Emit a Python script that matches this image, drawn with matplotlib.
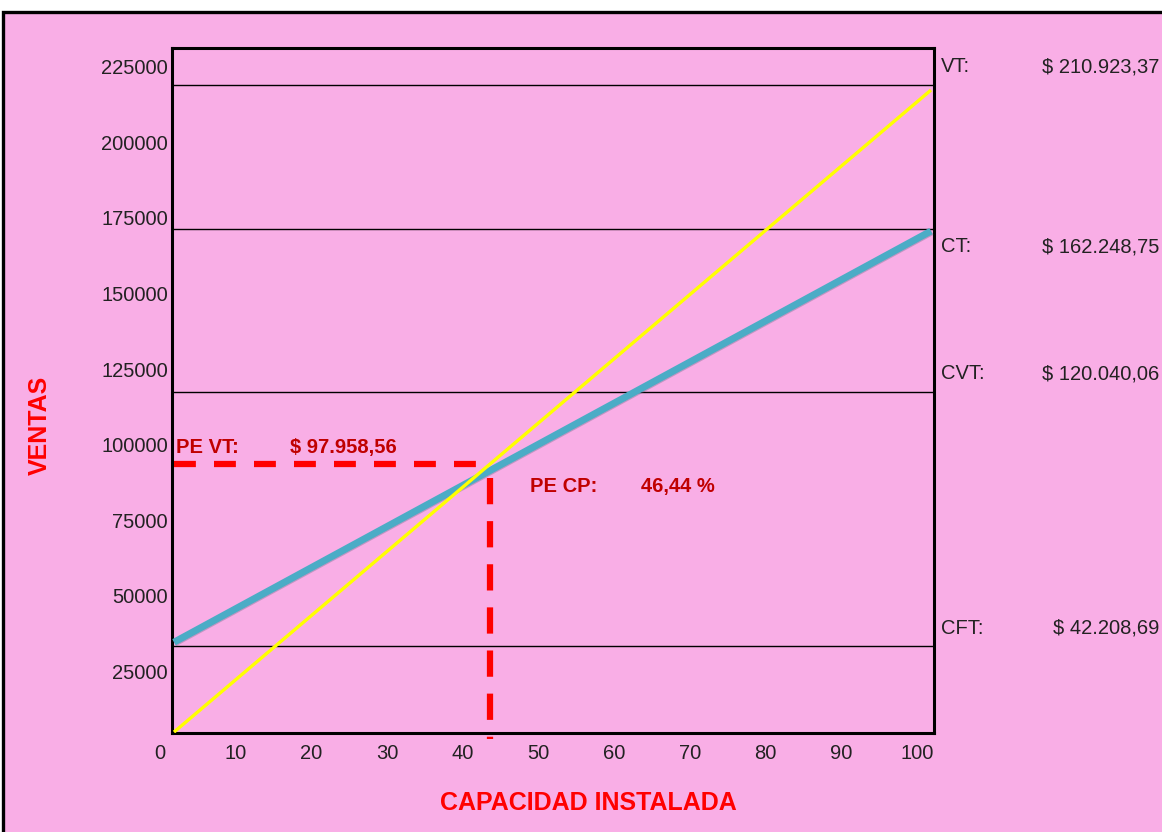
import matplotlib
matplotlib.use("Agg")
import matplotlib.pyplot as plt
from matplotlib.patches import Rectangle
from matplotlib.transforms import ScaledTranslation
import matplotlib.patheffects as pe

# --------------------------- DATA ---------------------------

capacidad = [0, 100]                    # % capacidad instalada
ventas_totales = [5000, 217200]         # VT
costo_total = [34700, 170600]           # CT

nivel_nombres = ["VT:", "CT:", "CVT:", "CFT:"]
nivel_valores = [218900, 171300, 117500, 33400]
nivel_textos = ["$ 210.923,37", "$ 162.248,75", "$ 120.040,06", "$ 42.208,69"]
nivel_offsets = [13, -13, 13, 13]       # text above / below the line (points)

pe_x = 41.7
pe_y = 93600
pe_vt_texto = "$ 97.958,56"
pe_cp_texto = "46,44 %"

x_ticks = list(range(0, 101, 10))
y_ticks = list(range(25000, 225001, 25000))

# --------------------------- STYLE ---------------------------

PINK = "#F9AEE6"
BLUE = "#4BACC6"
YELLOW = "#FFFF00"
RED = "#FF0000"
DARK_RED = "#C00000"
TEXT = "#222222"

plt.rcParams['font.family'] = ['Liberation Sans', 'DejaVu Sans']

fig = plt.figure(figsize=(11.62, 8.32), dpi=100, facecolor='white')

# outer frame of the chart (behind the axes)
fig.patches.append(Rectangle((3 / 1162, -0.05), 1.05, 1 - 12 / 832 + 0.05,
                             transform=fig.transFigure, facecolor=PINK,
                             edgecolor='black', linewidth=2.4, zorder=-10))

ax = fig.add_axes([172 / 1162, 1 - 733 / 832, 762 / 1162, 685 / 832])
ax.set_facecolor(PINK)
ax.set_xlim(-0.26, 100.4)
ax.set_ylim(4700, 231100)

for s in ax.spines.values():
    s.set_linewidth(2.2)
    s.set_color('black')

# horizontal reference lines
for v in nivel_valores:
    ax.axhline(v, color='black', linewidth=1.0, zorder=2)

# lines
ax.plot(capacidad, costo_total, color=BLUE, linewidth=5, solid_capstyle='butt', zorder=4,
        path_effects=[pe.SimpleLineShadow(offset=(0.6, -0.6), shadow_color='#5a6a80', alpha=0.35),
                      pe.Normal()])
ax.plot(capacidad, ventas_totales, color=YELLOW, linewidth=2.4, solid_capstyle='butt', zorder=5)

# break-even dashed lines
ax.plot([0, pe_x], [pe_y, pe_y], color=RED, linewidth=4.5, dashes=(3.5, 2.9),
        solid_capstyle='butt', zorder=6)
ax.plot([pe_x, pe_x], [89000, 2800], color=RED, linewidth=4.5, dashes=(4.2, 2.7),
        zorder=6, clip_on=False)

# ticks
ax.set_xticks(x_ticks)
ax.set_yticks(y_ticks)
ax.tick_params(axis='both', length=0, labelsize=14.5, labelcolor=TEXT)
ax.tick_params(axis='x', pad=8)
ax.tick_params(axis='y', pad=3)
for lbl in ax.get_xticklabels():
    lbl.set_transform(lbl.get_transform() + ScaledTranslation(-14 / 100, 0, fig.dpi_scale_trans))

# right side labels
for nombre, v, txt, off in zip(nivel_nombres, nivel_valores, nivel_textos, nivel_offsets):
    ax.annotate(nombre, xy=(1, v), xycoords=('axes fraction', 'data'),
                xytext=(5, off), textcoords='offset points', ha='left', va='center',
                fontsize=14.5, color=TEXT, annotation_clip=False)
    ax.annotate(txt, xy=(1, v), xycoords=('axes fraction', 'data'),
                xytext=(162, off), textcoords='offset points', ha='right', va='center',
                fontsize=14.5, color=TEXT, annotation_clip=False)

# break-even annotations
ax.annotate("PE VT:", xy=(0, pe_y), xycoords=('axes fraction', 'data'),
            xytext=(3, 12), textcoords='offset points', ha='left', va='center',
            fontsize=14.5, fontweight='bold', color=DARK_RED)
ax.annotate(pe_vt_texto, xy=(0, pe_y), xycoords=('axes fraction', 'data'),
            xytext=(85, 12), textcoords='offset points', ha='left', va='center',
            fontsize=14.5, fontweight='bold', color=DARK_RED)
ax.annotate("PE CP:", xy=(pe_x, pe_y), xycoords='data',
            xytext=(29, -16.5), textcoords='offset points', ha='left', va='center',
            fontsize=14.5, fontweight='bold', color=DARK_RED)
ax.annotate(pe_cp_texto, xy=(pe_x, pe_y), xycoords='data',
            xytext=(109, -16.5), textcoords='offset points', ha='left', va='center',
            fontsize=14.5, fontweight='bold', color=DARK_RED)

# axis titles
fig.text(588 / 1162, 1 - 803 / 832, "CAPACIDAD INSTALADA", ha='center', va='center',
         fontsize=18, fontweight='bold', color=RED)
fig.text(40 / 1162, 1 - 425 / 832, "VENTAS", ha='center', va='center', rotation=90,
         fontsize=18, fontweight='bold', color=RED)

fig.savefig("out.png", dpi=100, facecolor='white')
